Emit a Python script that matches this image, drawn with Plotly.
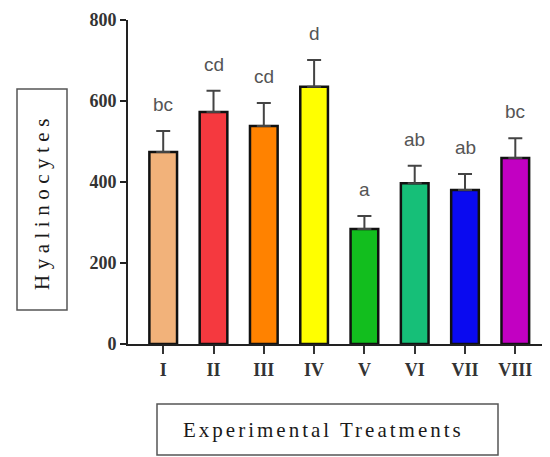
import plotly.graph_objects as go

categories = ["I", "II", "III", "IV", "V", "VI", "VII", "VIII"]
means = [474, 573, 538, 635, 284, 397, 380, 459]
errors = [52, 52, 57, 66, 32, 43, 40, 49]
letters = ["bc", "cd", "cd", "d", "a", "ab", "ab", "bc"]
colors = ["#F2B27A", "#F5393F", "#FF8200", "#FFFF00", "#12BE1E", "#16BF78", "#0A0AF0", "#C200C2"]
y_ticks = [0, 200, 400, 600, 800]

# page body has an 8px margin, so the figure is 8px smaller on each axis
OFF = 8
W, H = 550 - OFF, 457 - OFF
L, R, T, B = 128 - OFF, 2, 20 - OFF, 113
pw, ph = W - L - R, H - T - B

def px(x):
    return (x - OFF - L) / pw

def py(y):
    return (H - B - (y - OFF)) / ph

fig = go.Figure()
fig.add_trace(go.Bar(
    x=categories, y=means,
    width=0.55,
    marker=dict(color=colors, line=dict(color="#111111", width=2.5)),
    error_y=dict(type="data", array=errors, arrayminus=[0] * len(errors),
                 symmetric=False, color="#444444", thickness=2, width=7),
    showlegend=False,
))

for c, m, e, t in zip(categories, means, errors, letters):
    fig.add_annotation(x=c, y=m + e, text=t, showarrow=False, yanchor="bottom",
                       yshift=14, font=dict(family="Liberation Sans, Arial", size=19, color="#555555"))

# boxed axis titles
fig.add_shape(type="rect", xref="paper", yref="paper",
              x0=px(17), x1=px(67), y0=py(310), y1=py(89),
              line=dict(color="#555555", width=1.5), fillcolor="rgba(0,0,0,0)")
fig.add_annotation(xref="paper", yref="paper", x=px(42), y=py(202),
                   text="<span style='letter-spacing:5.5px'>Hyalinocytes</span>",
                   textangle=-90, showarrow=False, xanchor="center", yanchor="middle",
                   font=dict(family="Liberation Serif, Times New Roman", size=21, color="#1a1a1a"))
fig.add_shape(type="rect", xref="paper", yref="paper",
              x0=px(157), x1=px(498), y0=py(455), y1=py(404),
              line=dict(color="#555555", width=1.5), fillcolor="rgba(0,0,0,0)")
fig.add_annotation(xref="paper", yref="paper", x=px(323), y=py(430),
                   text="<span style='letter-spacing:3px'>Experimental Treatments</span>",
                   showarrow=False, xanchor="center", yanchor="middle",
                   font=dict(family="Liberation Serif, Times New Roman", size=21, color="#1a1a1a"))

fig.update_layout(
    width=W, height=H,
    margin=dict(l=L, r=R, t=T, b=B),
    plot_bgcolor="white", paper_bgcolor="white",
)
fig.update_xaxes(
    range=[-0.7, 7.65], showline=True, linecolor="#222222", linewidth=2,
    ticks="outside", ticklen=8, tickwidth=2, tickcolor="#333333",
    tickfont=dict(family="Liberation Serif, Times New Roman", size=18, color="#333333"),
    showgrid=False, zeroline=False,
    tickprefix="<b>", ticksuffix="</b>",
)
fig.update_yaxes(
    range=[0, 800], showline=True, linecolor="#222222", linewidth=2,
    ticks="outside", ticklen=6, tickwidth=2, tickcolor="#222222",
    tickvals=y_ticks, ticktext=[f"<b>{v}</b>" for v in y_ticks],
    tickfont=dict(family="Liberation Serif, Times New Roman", size=18, color="#333333"),
    showgrid=False, zeroline=False,
)

fig.write_html("out.html")
